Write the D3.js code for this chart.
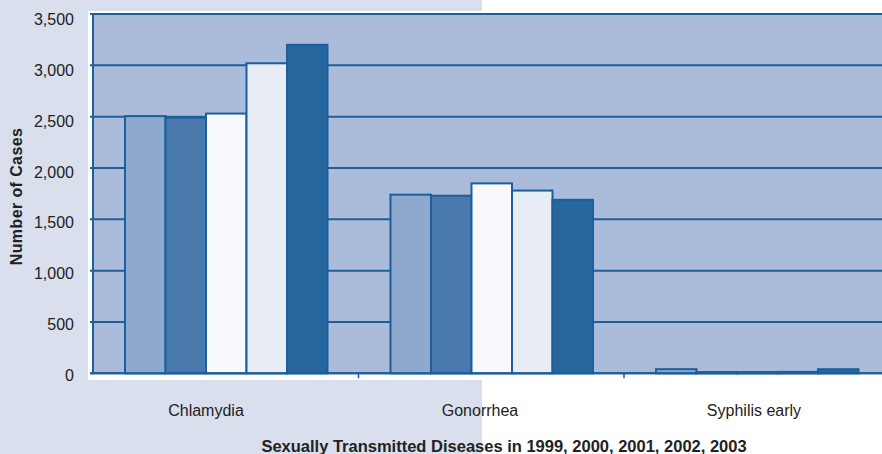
<!DOCTYPE html>
<html lang="en">
  <head>
    <meta charset="UTF-8" />
    <title>Sexually Transmitted Diseases</title>
    <style>
      body {
        margin: 0;
        background: #ffffff;
      }
      svg text {
        font-family: "Liberation Sans", Arial, sans-serif;
        fill: #222;
      }
    </style>
  </head>
  <body>
    <svg width="882" height="454" id="chart"></svg>

    <script src="https://d3js.org/d3.v7.min.js"></script>
    <script>
      var categories = ["Chlamydia", "Gonorrhea", "Syphilis early"];
      var years = ["1999", "2000", "2001", "2002", "2003"];
      var cases1999 = [2505, 1740, 40];
      var cases2000 = [2490, 1730, 12];
      var cases2001 = [2530, 1850, 12];
      var cases2002 = [3020, 1780, 14];
      var cases2003 = [3200, 1690, 40];
      var yTicks = [0, 500, 1000, 1500, 2000, 2500, 3000, 3500];
      var colors = ["#8ea9cd", "#4a7aad", "#f8f9fc", "#e8ecf5", "#2767a0"];

      var series = [cases1999, cases2000, cases2001, cases2002, cases2003];
      var rows = [];
      categories.forEach(function (c, i) {
        years.forEach(function (y, j) {
          rows.push({ cat: c, year: y, value: series[j][i], color: colors[j] });
        });
      });

      var svg = d3.select("#chart");
      var dark = "#1d5e9c";

      // backgrounds
      svg.append("rect").attr("x", 0).attr("y", 0).attr("width", 482).attr("height", 454).attr("fill", "#d9dfec");
      svg.append("rect").attr("x", 88).attr("y", 11).attr("width", 794).attr("height", 369).attr("fill", "#ffffff");

      var x0 = d3.scaleBand().domain(categories).range([93, 889.5]);
      var x1 = d3.scaleBand().domain(years).range([32, x0.bandwidth() - 31]);
      var y = d3.scaleLinear().domain([0, 3500]).range([373.3, 14]);
      var yLab = d3.scaleLinear().domain([0, 3500]).range([375, 19.7]);
      var xLab = d3.scalePoint().domain(categories).range([206, 754]);

      svg.append("rect")
        .attr("x", 93).attr("y", y(3500))
        .attr("width", 882 - 93).attr("height", y(0) - y(3500))
        .attr("fill", "#abbcda");

      // gridlines
      svg.append("g")
        .selectAll("line")
        .data(yTicks)
        .join("line")
        .attr("x1", 90).attr("x2", 882)
        .attr("y1", function (d) { return y(d); })
        .attr("y2", function (d) { return y(d); })
        .attr("stroke", dark)
        .attr("stroke-width", 2);

      // bars
      svg.append("g")
        .selectAll("rect")
        .data(rows)
        .join("rect")
        .attr("x", function (d) { return x0(d.cat) + x1(d.year); })
        .attr("width", x1.bandwidth())
        .attr("y", function (d) { return y(d.value); })
        .attr("height", function (d) { return y(0) - y(d.value); })
        .attr("fill", function (d) { return d.color; })
        .attr("stroke", dark)
        .attr("stroke-width", 2);

      // axes lines
      svg.append("line").attr("x1", 93).attr("x2", 93).attr("y1", y(3500)).attr("y2", y(0) + 1).attr("stroke", dark).attr("stroke-width", 2);
      svg.append("line").attr("x1", 90).attr("x2", 882).attr("y1", y(0)).attr("y2", y(0)).attr("stroke", dark).attr("stroke-width", 2);

      // category ticks
      svg.append("g")
        .selectAll("line")
        .data(categories.slice(1))
        .join("line")
        .attr("x1", function (d) { return x0(d); })
        .attr("x2", function (d) { return x0(d); })
        .attr("y1", y(0))
        .attr("y2", y(0) + 5)
        .attr("stroke", dark)
        .attr("stroke-width", 1.5);

      // y tick labels
      svg.append("g")
        .selectAll("text")
        .data(yTicks)
        .join("text")
        .attr("x", 74)
        .attr("y", function (d) { return yLab(d); })
        .attr("dy", "0.35em")
        .attr("text-anchor", "end")
        .style("font-size", "16px")
        .text(d3.format(","));

      // category labels
      svg.append("g")
        .selectAll("text")
        .data(categories)
        .join("text")
        .attr("x", function (d) { return xLab(d); })
        .attr("y", 416)
        .attr("text-anchor", "middle")
        .style("font-size", "16px")
        .text(function (d) { return d; });

      svg.append("text")
        .attr("x", 504).attr("y", 451.5)
        .attr("text-anchor", "middle")
        .style("font-size", "16.5px")
        .style("font-weight", "bold")
        .text("Sexually Transmitted Diseases in " + years.join(", "));

      svg.append("text")
        .attr("transform", "translate(21.5,196.5) rotate(-90)")
        .attr("text-anchor", "middle")
        .style("font-size", "16px")
        .style("font-weight", "bold")
        .style("letter-spacing", "0.4px")
        .text("Number of Cases");
    </script>
  </body>
</html>
